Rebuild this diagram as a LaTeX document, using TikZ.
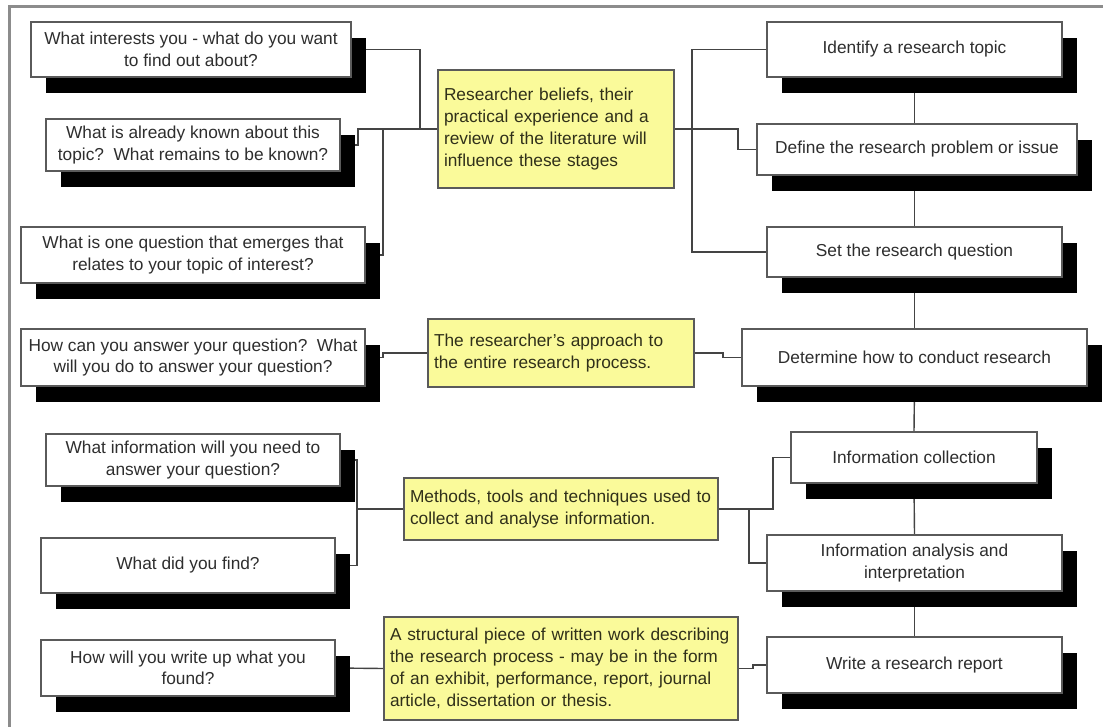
\documentclass[tikz,border=0pt]{standalone}
\usepackage{fontspec}
\setmainfont{Liberation Sans}
\usetikzlibrary{shadows,backgrounds}

\definecolor{framegray}{HTML}{8C8C8C}
\definecolor{boxline}{HTML}{5A5A5A}
\definecolor{wiretone}{HTML}{444444}
\definecolor{textgray}{HTML}{2E2E2E}
\definecolor{notefill}{HTML}{FAFA9A}
\definecolor{notetext}{HTML}{30301A}

\tikzset{
  blackshadow/.style={drop shadow={shadow xshift=15pt, shadow yshift=-16pt,
      fill=black, opacity=1}},
  wbox/.style={draw=boxline, line width=1.4pt, fill=white, blackshadow,
      align=center, inner sep=2pt, text=textgray,
      font=\fontsize{17.3}{21.5}\selectfont},
  ybox/.style={draw=boxline, line width=1.4pt, fill=notefill,
      align=left, inner xsep=6pt, inner ysep=2pt, text=notetext,
      font=\fontsize{17.3}{21.8}\selectfont},
  wire/.style={draw=wiretone, line width=1.4pt},
  frameline/.style={draw=framegray, line width=3pt}
}

\begin{document}
\begin{tikzpicture}[x=1pt, y=-1pt]
  \useasboundingbox (0,0) rectangle (1103,726);

  % questions on the left
  \node[wbox, minimum width=320pt, minimum height=55pt] (L1) at (191,49.5)
    {What interests you - what do you want\\to find out about?};
  \node[wbox, minimum width=294pt, minimum height=52pt] (L2) at (193,145)
    {What is already known about this\\topic?\ \ What remains to be known?};
  \node[wbox, minimum width=344pt, minimum height=56pt] (L3) at (193,255)
    {What is one question that emerges that\\relates to your topic of interest?};
  \node[wbox, minimum width=344pt, minimum height=57pt] (L4) at (193,357.5)
    {How can you answer your question?\ \ What\\will you do to answer your question?};
  \node[wbox, minimum width=294pt, minimum height=52pt] (L5) at (193,460)
    {What information will you need to\\answer your question?};
  \node[wbox, minimum width=294pt, minimum height=55pt] (L6) at (188,565.5)
    {What did you find?};
  \node[wbox, minimum width=294pt, minimum height=56pt] (L7) at (188,668)
    {How will you write up what you\\found?};

  % research stages on the right
  \node[wbox, minimum width=295pt, minimum height=55pt] (R1) at (914.5,49.5)
    {Identify a research topic};
  \node[wbox, minimum width=320pt, minimum height=51pt] (R2) at (917,149.5)
    {Define the research problem or issue};
  \node[wbox, minimum width=295pt, minimum height=50pt] (R3) at (914.5,252)
    {Set the research question};
  \node[wbox, minimum width=345pt, minimum height=57pt] (R4) at (914.5,357.5)
    {Determine how to conduct research};
  \node[wbox, minimum width=246pt, minimum height=51pt] (R5) at (914,457.5)
    {Information collection};
  \node[wbox, minimum width=295pt, minimum height=56pt] (R6) at (914.5,563)
    {Information analysis and\\interpretation};
  \node[wbox, minimum width=295pt, minimum height=56pt] (R7) at (914.5,665)
    {Write a research report};

  % notes in the middle
  \node[ybox, text width=224pt, minimum height=118pt] (Y1) at (556,129)
    {Researcher beliefs, their\\practical experience and a\\review of the literature will\\influence these stages};
  \node[ybox, text width=254pt, minimum height=68pt] (Y2) at (561,353)
    {The researcher's approach to\\the entire research process.};
  \node[ybox, text width=302pt, minimum height=62pt] (Y3) at (561,509)
    {Methods, tools and techniques used to\\collect and analyse information.};
  \node[ybox, text width=342pt, minimum height=103pt] (Y4) at (561,668.5)
    {A structural piece of written work describing\\the research process - may be in the form\\of an exhibit, performance, report, journal\\article, dissertation or thesis.};

  \begin{scope}[on background layer]
    \fill[white] (0,0) rectangle (1103,726);
    \draw[frameline] (9,727) -- (9,6) -- (1104,6);
    % first group
    \draw[wire] (L1.east) -| (420,129) -- (Y1.west);
    \draw[wire] (L2.east) -| (358,129) -- (420,129);
    \draw[wire] (L3.east) -| (383,129);
    \draw[wire] (Y1.east) -- (692,129);
    \draw[wire] (R1.west) -| (692,129) |- (R3.west);
    \draw[wire] (692,129) -- (738,129) |- (R2.west);
    % second group
    \draw[wire] (L4.east) -- (383,357.5) |- (Y2.west);
    \draw[wire] (Y2.east) -- (723,353) |- (R4.west);
    % third group
    \draw[wire] (L5.east) -| (357,509) |- (L6.east);
    \draw[wire] (357,509) -- (Y3.west);
    \draw[wire] (Y3.east) -- (773,509) |- (R5.west);
    \draw[wire] (749,509) |- (R6.west);
    % fourth group
    \draw[wire] (L7.east) -- (Y4.west);
    \draw[wire] (Y4.east) -- (753,668.5) |- (R7.west);
    % chain of stages
    \draw[wire] (R1.south) -- (R1.south |- R2.north);
    \draw[wire] (R3.north |- R2.south) -- (R3.north);
    \draw[wire] (R3.south) -- (R4.north);
    \draw[wire] (R4.south) -- (R5.north);
    \draw[wire] (R5.south) -- (R6.north);
    \draw[wire] (R6.south) -- (R7.north);
  \end{scope}
\end{tikzpicture}
\end{document}
